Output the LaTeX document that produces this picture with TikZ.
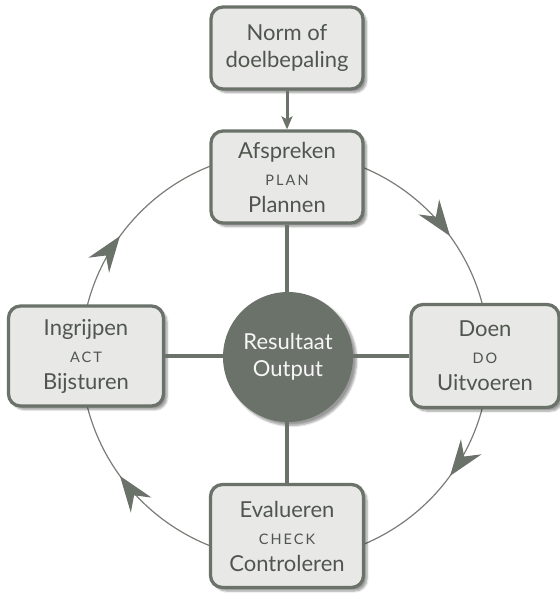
\documentclass[tikz,border=0pt]{standalone}
\usepackage{fontspec}
\setmainfont{Lato}
\usetikzlibrary{shadows.blur,arrows.meta,decorations.markings,calc}
\definecolor{boxfill}{HTML}{E8E8E6}
\definecolor{boxline}{HTML}{6B7269}
\definecolor{txt}{HTML}{50554E}
\definecolor{ringc}{HTML}{787D76}
\newcommand{\smc}[1]{{\fontsize{14.5}{15}\selectfont\addfontfeatures{LetterSpace=14}#1}}
\tikzset{
  ringarrow/.tip={Stealth[length=24pt, width=17pt, inset=8pt, scale=1.5]},
  stagebox/.style={draw=boxline, line width=3.3pt, fill=boxfill, rounded corners=12pt,
    align=center, text=txt, font=\fontsize{22}{27}\selectfont,
    blur shadow={shadow xshift=3.5pt, shadow yshift=-3.5pt, shadow blur steps=6, shadow opacity=40}},
  hub/.style={circle, fill=boxline, minimum size=130pt, inner sep=0pt, align=center,
    text=white!94!boxline, font=\fontsize{22}{27}\selectfont,
    blur shadow={shadow xshift=3.5pt, shadow yshift=-3.5pt, shadow blur steps=6, shadow opacity=40}},
  spoke/.style={draw=boxline, line width=3.3pt},
  ringline/.style={draw=ringc, line width=1.2pt,
    postaction={decorate, decoration={markings,
      mark=at position 0.15 with {\arrow[boxline]{ringarrow}},
      mark=at position 0.35 with {\arrow[boxline]{ringarrow}},
      mark=at position 0.65 with {\arrow[boxline]{ringarrow}},
      mark=at position 0.85 with {\arrow[boxline]{ringarrow}}}}}
}
\begin{document}
\begin{tikzpicture}[x=1pt,y=-1pt]
\useasboundingbox (0,0) rectangle (560,595);
\coordinate (rc) at (285,356);
% ring (clockwise, starting at top)
\draw[ringline] ($(rc)+(0,-204)$) arc[start angle=90, end angle=-270, radius=204pt];
\node[stagebox, minimum width=152pt, minimum height=82pt] (norm) at (287,48) {Norm of\\doelbepaling};
\node[stagebox, minimum width=152pt, minimum height=92pt] (plan) at (287,177) {Afspreken\\\smc{PLAN}\\Plannen};
\node[stagebox, minimum width=155pt, minimum height=100pt] (act) at (86,356) {Ingrijpen\\\smc{ACT}\\Bijsturen};
\node[stagebox, minimum width=148pt, minimum height=103pt] (do) at (485,356) {Doen\\\smc{DO}\\Uitvoeren};
\node[stagebox, minimum width=153pt, minimum height=103pt] (check) at (287,536) {Evalueren\\\smc{CHECK}\\Controleren};
\node[hub] (res) at (288,357) {Resultaat\\Output};
\draw[spoke] (plan.south) -- (plan.south |- res.north);
\draw[spoke] (check.north |- res.south) -- (check.north);
\draw[spoke] (act.east) -- (act.east -| res.west);
\draw[spoke] (do.west -| res.east) -- (do.west);
\draw[boxline, line width=3pt, -{Stealth[length=13pt, width=11pt, inset=3pt]}] (norm.south) -- (plan.north);
\end{tikzpicture}
\end{document}
